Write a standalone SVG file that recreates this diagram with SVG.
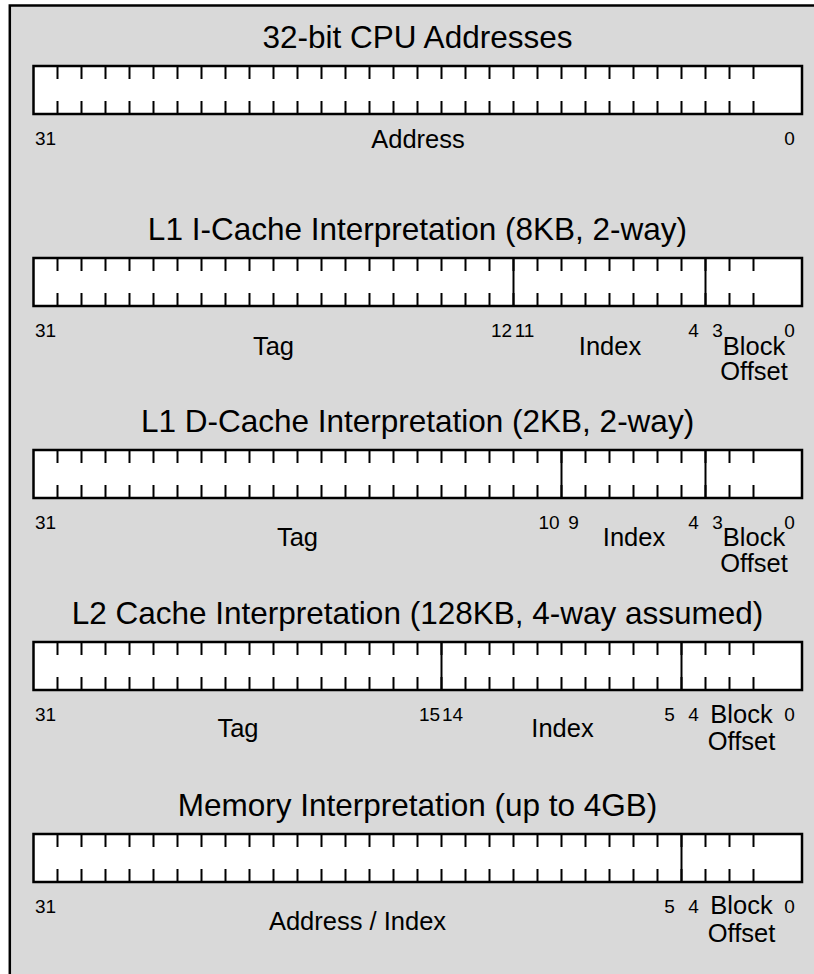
<svg xmlns="http://www.w3.org/2000/svg" xmlns:xlink="http://www.w3.org/1999/xlink" width="814" height="974" viewBox="0 0 814 974">
<style>
text{font-family:"Liberation Sans",Arial,sans-serif;fill:#000;text-anchor:middle}
.title{font-size:31.5px}
.lbl{font-size:25.5px}
.bit{font-size:19px}
.bar{fill:#fff;stroke:#000;stroke-width:2.5}
.tick{fill:none;stroke:#000;stroke-width:2}
.div{stroke:#000;stroke-width:2}
</style>
<defs>
<g id="bar">
<rect class="bar" x="33.5" y="0" width="768.5" height="48"/>
<path class="tick" d="M57.5 0v13m0 22v13m24-48v13m0 22v13m24-48v13m0 22v13m24-48v13m0 22v13m24-48v13m0 22v13m24-48v13m0 22v13m24-48v13m0 22v13m24-48v13m0 22v13m24-48v13m0 22v13m24-48v13m0 22v13m24-48v13m0 22v13m24-48v13m0 22v13m24-48v13m0 22v13m24-48v13m0 22v13m24-48v13m0 22v13m24-48v13m0 22v13m24-48v13m0 22v13m24-48v13m0 22v13m24-48v13m0 22v13m24-48v13m0 22v13m24-48v13m0 22v13m24-48v13m0 22v13m24-48v13m0 22v13m24-48v13m0 22v13m24-48v13m0 22v13m24-48v13m0 22v13m24-48v13m0 22v13m24-48v13m0 22v13m24-48v13m0 22v13m24-48v13m0 22v13"/>
</g>
</defs>
<rect x="0" y="0" width="814" height="974" fill="#fff"/>
<rect id="frame" x="9.8" y="5.5" width="830" height="990" fill="#d9d9d9" stroke="#000" stroke-width="2.5"/>

<g id="cpu-addresses">
<text class="title" x="417.5" y="48">32-bit CPU Addresses</text>
<use xlink:href="#bar" href="#bar" x="0" y="66"/>
<text class="bit" x="45.5" y="145">31</text>
<text class="bit" x="789.5" y="145">0</text>
<text class="lbl" x="418" y="148">Address</text>
</g>

<g id="l1-icache">
<text class="title" x="417.5" y="240">L1 I-Cache Interpretation (8KB, 2-way)</text>
<use xlink:href="#bar" href="#bar" x="0" y="258"/>
<line class="div" x1="513.5" y1="258" x2="513.5" y2="306"/>
<line class="div" x1="705.5" y1="258" x2="705.5" y2="306"/>
<text class="bit" x="45.5" y="337">31</text>
<text class="bit" x="501.5" y="337">12</text>
<text class="bit" x="524.5" y="337">11</text>
<text class="bit" x="693.5" y="337">4</text>
<text class="bit" x="717.5" y="337">3</text>
<text class="bit" x="789.5" y="337">0</text>
<text class="lbl" x="273.5" y="355">Tag</text>
<text class="lbl" x="610" y="355">Index</text>
<text class="lbl" x="754" y="355">Block<tspan x="754" dy="25">Offset</tspan></text>
</g>

<g id="l1-dcache">
<text class="title" x="417.5" y="432">L1 D-Cache Interpretation (2KB, 2-way)</text>
<use xlink:href="#bar" href="#bar" x="0" y="450"/>
<line class="div" x1="561.5" y1="450" x2="561.5" y2="498"/>
<line class="div" x1="705.5" y1="450" x2="705.5" y2="498"/>
<text class="bit" x="45.5" y="529">31</text>
<text class="bit" x="549" y="529">10</text>
<text class="bit" x="573.5" y="529">9</text>
<text class="bit" x="693.5" y="529">4</text>
<text class="bit" x="717.5" y="529">3</text>
<text class="bit" x="789.5" y="529">0</text>
<text class="lbl" x="297.5" y="546">Tag</text>
<text class="lbl" x="634" y="546">Index</text>
<text class="lbl" x="754" y="546">Block<tspan x="754" dy="26">Offset</tspan></text>
</g>

<g id="l2-cache">
<text class="title" x="417.5" y="624">L2 Cache Interpretation (128KB, 4-way assumed)</text>
<use xlink:href="#bar" href="#bar" x="0" y="642"/>
<line class="div" x1="441.5" y1="642" x2="441.5" y2="690"/>
<line class="div" x1="681.5" y1="642" x2="681.5" y2="690"/>
<text class="bit" x="45.5" y="721">31</text>
<text class="bit" x="429.5" y="721">15</text>
<text class="bit" x="452.5" y="721">14</text>
<text class="bit" x="669.5" y="721">5</text>
<text class="bit" x="693.5" y="721">4</text>
<text class="bit" x="789.5" y="721">0</text>
<text class="lbl" x="238" y="737">Tag</text>
<text class="lbl" x="562.5" y="737">Index</text>
<text class="lbl" x="741.5" y="723">Block<tspan x="741.5" dy="27">Offset</tspan></text>
</g>

<g id="memory">
<text class="title" x="417.5" y="816">Memory Interpretation (up to 4GB)</text>
<use xlink:href="#bar" href="#bar" x="0" y="834"/>
<line class="div" x1="681.5" y1="834" x2="681.5" y2="882"/>
<text class="bit" x="45.5" y="913">31</text>
<text class="bit" x="669.5" y="913">5</text>
<text class="bit" x="693.5" y="913">4</text>
<text class="bit" x="789.5" y="913">0</text>
<text class="lbl" x="357.5" y="930">Address / Index</text>
<text class="lbl" x="741.5" y="914">Block<tspan x="741.5" dy="27.5">Offset</tspan></text>
</g>

<g id="connectors"></g>
</svg>
